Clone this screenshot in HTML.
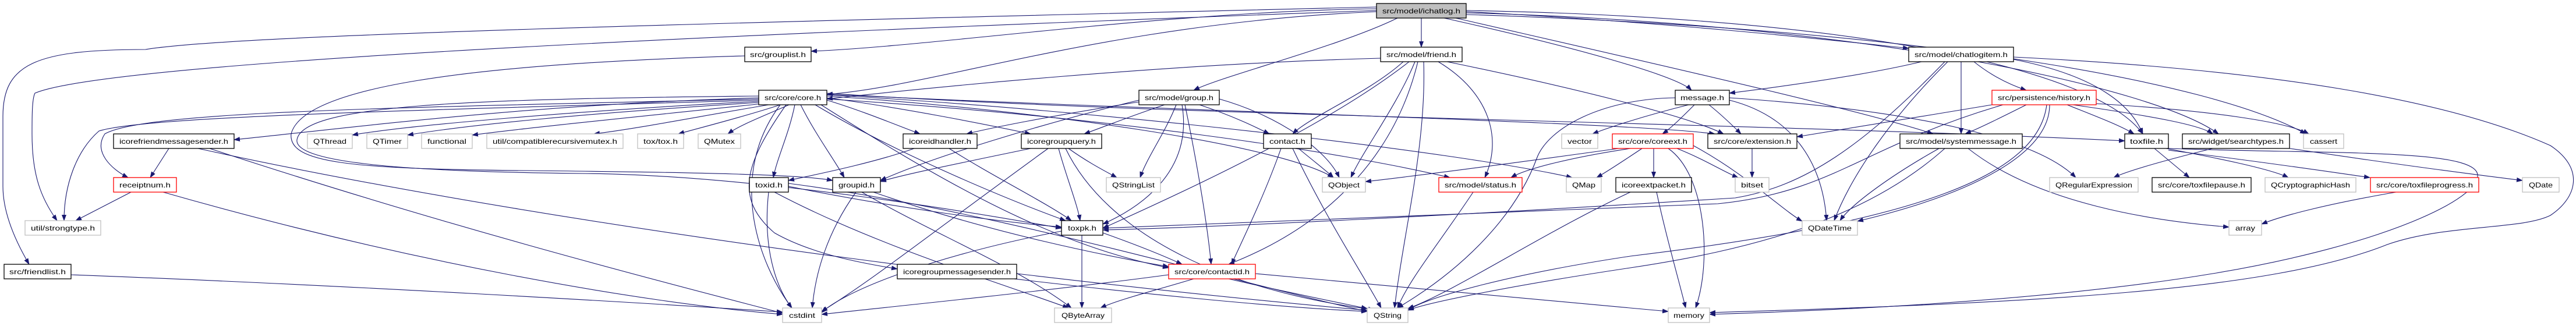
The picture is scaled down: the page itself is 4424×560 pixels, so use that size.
<!DOCTYPE html>
<html><head><meta charset="utf-8"><style>
html,body{margin:0;padding:0;background:#fff;}
svg{display:block;}
text{font-family:"Liberation Sans",sans-serif;font-size:12px;fill:#000;}
.e{fill:none;stroke:#191970;stroke-width:1.1;marker-end:url(#a);}
.n{fill:#fff;stroke:#000;stroke-width:1.3;}
.g{fill:#fff;stroke:#bfbfbf;stroke-width:1.3;}
.r{fill:#fff;stroke:#ff0000;stroke-width:1.3;}
.m{fill:#bfbfbf;stroke:#000;stroke-width:1.3;}
</style></head><body>
<svg width="4424" height="560" viewBox="0 0 4424 560" xmlns="http://www.w3.org/2000/svg">
<defs><marker id="a" markerWidth="11" markerHeight="8" refX="10" refY="4" orient="auto" markerUnits="userSpaceOnUse"><path d="M0,0 L11,4 L0,8 z" fill="#191970"/></marker></defs>
<g>
<!-- ichatlog -->
<path class="e" d="M2441,31 L2441,81"/>
<path class="e" d="M2364,20 C1900,40 1600,150 1420,162"/>
<path class="e" d="M2364,15 C2000,20 1600,80 1393,88"/>
<path class="e" d="M2400,31 C2300,80 2100,130 2050,155"/>
<path class="e" d="M2480,31 C2700,80 2880,130 2905,155"/>
<path class="e" d="M2518,20 C2900,40 3200,75 3278,83"/>
<path class="e" d="M2500,31 C2800,100 3200,190 3320,230"/>
<path class="e" d="M2518,18 C3200,30 3600,120 3680,230"/>
<path class="e" d="M2518,22 C3200,40 3700,150 3810,230"/>
<path class="e" d="M2518,25 C3300,50 3800,140 3960,230"/>
<path class="e" d="M2364,12 C1200,40 400,60 250,85 C60,85 5,110 5,200 L5,320 C5,370 30,420 50,454"/>
<path class="e" d="M2364,18 C1500,50 200,100 60,160 C55,170 55,200 55,230 C55,300 70,340 98,379"/>
<path class="e" d="M3458,98 C3900,120 4200,170 4380,250 C4440,290 4425,340 4380,370 C4330,395 4200,385 4100,420 C3900,500 3500,520 2936,537"/>
<path class="e" d="M3724,255 C4000,265 4250,255 4255,300 C4260,340 4100,420 3800,470 C3500,520 3100,535 2936,540"/>
<!-- friend -->
<path class="e" d="M2371,100 C2000,110 1600,150 1420,170"/>
<path class="e" d="M2410,106 C2350,160 2250,200 2220,230"/>
<path class="e" d="M2430,106 C2400,180 2340,260 2320,305"/>
<path class="e" d="M2445,106 C2450,250 2410,400 2395,529"/>
<path class="e" d="M2470,106 C2560,160 2580,240 2550,305"/>
<path class="e" d="M2420,106 C2300,200 2100,300 1894,392"/>
<path class="e" d="M2435,106 C2400,250 2300,380 2110,454"/>
<path class="e" d="M2485,106 C2700,150 2900,200 2960,230"/>
<!-- core -->
<path class="e" d="M1303,168 C900,180 600,220 402,240"/>
<path class="e" d="M1303,170 C700,185 250,190 180,230 C160,260 190,290 220,305"/>
<path class="e" d="M1303,172 C700,190 250,200 170,225 C130,260 110,320 110,379"/>
<path class="e" d="M1303,174 C1000,190 700,215 605,232"/>
<path class="e" d="M1303,176 C1000,195 800,215 700,232"/>
<path class="e" d="M1310,178 C1100,200 900,220 811,232"/>
<path class="e" d="M1320,180 C1200,200 1100,220 1020,230"/>
<path class="e" d="M1340,180 C1280,200 1200,220 1165,230"/>
<path class="e" d="M1355,180 C1310,200 1270,215 1250,230"/>
<path class="e" d="M1365,180 C1355,230 1335,270 1328,305"/>
<path class="e" d="M1375,180 C1400,230 1430,270 1450,305"/>
<path class="e" d="M1420,172 C1480,190 1540,215 1580,230"/>
<path class="e" d="M1420,168 C1550,185 1700,215 1770,230"/>
<path class="e" d="M1400,180 C1550,270 1750,350 1830,379"/>
<path class="e" d="M1350,180 C1280,280 1260,340 1330,400 C1400,440 1500,455 1541,462"/>
<path class="e" d="M1420,165 C1800,190 2200,250 2290,305"/>
<path class="e" d="M1420,163 C1900,190 2500,260 2700,305"/>
<path class="e" d="M1420,160 C2000,200 3000,210 3649,242"/>
<path class="e" d="M1420,162 C2000,190 2800,210 2945,230"/>
<path class="e" d="M1340,180 C1250,300 1300,450 1360,529"/>
<path class="e" d="M1420,170 C1900,200 2300,260 2490,305"/>
<path class="e" d="M1410,180 C1600,300 1800,420 2007,460"/>
<path class="e" d="M1303,165 C800,170 520,180 510,240 C505,280 700,295 1000,298 C1300,300 1700,370 1823,392"/>
<path class="e" d="M1279,96 C800,110 520,150 500,230 C495,280 600,290 900,293 C1200,296 1380,300 1430,310"/>
<!-- group -->
<path class="e" d="M1956,175 C1800,200 1700,220 1660,230"/>
<path class="e" d="M2000,180 C1940,200 1890,220 1862,230"/>
<path class="e" d="M1956,172 C1800,210 1600,270 1512,310"/>
<path class="e" d="M2020,180 C2000,230 1970,270 1958,305"/>
<path class="e" d="M2030,180 C2050,300 1950,360 1894,385"/>
<path class="e" d="M2035,180 C2060,300 2075,400 2080,454"/>
<path class="e" d="M2060,180 C2120,200 2160,220 2180,230"/>
<path class="e" d="M2094,170 C2200,200 2280,260 2300,305"/>
<!-- mid -->
<path class="e" d="M1630,255 C1700,300 1800,350 1840,379"/>
<path class="e" d="M1570,255 C1500,280 1400,300 1354,310"/>
<path class="e" d="M1770,255 C1650,280 1550,300 1512,312"/>
<path class="e" d="M1818,255 C1830,300 1850,350 1855,379"/>
<path class="e" d="M1835,255 C1870,280 1900,295 1918,305"/>
<path class="e" d="M1830,255 C1900,400 2100,500 2360,532"/>
<path class="e" d="M1800,255 C1600,400 1500,480 1411,535"/>
<path class="e" d="M2230,255 C2260,280 2280,295 2290,305"/>
<path class="e" d="M2220,255 C2280,380 2340,470 2372,529"/>
<path class="e" d="M2200,255 C2170,340 2130,420 2115,454"/>
<path class="e" d="M1320,330 C1310,420 1330,490 1360,529"/>
<path class="e" d="M1330,330 C1500,420 1700,480 1835,529"/>
<path class="e" d="M1354,315 C1700,360 2100,480 2348,535"/>
<path class="e" d="M1354,320 C1500,350 1700,380 1823,390"/>
<path class="e" d="M1470,330 C1420,400 1400,470 1395,529"/>
<path class="e" d="M1500,330 C1700,400 1900,440 2007,458"/>
<path class="e" d="M1480,330 C1600,400 1750,460 1840,529"/>
<path class="e" d="M1858,404 L1858,529"/>
<path class="e" d="M1823,397 C1600,440 1450,500 1411,537"/>
<path class="e" d="M1894,400 C1950,420 2000,440 2030,454"/>
<path class="e" d="M1746,470 C2000,500 2200,520 2348,533"/>
<path class="e" d="M2050,479 C1980,500 1920,515 1890,529"/>
<path class="e" d="M2110,479 C2200,500 2300,520 2348,530"/>
<path class="e" d="M2007,472 C1800,500 1500,530 1411,540"/>
<path class="e" d="M2156,470 C2500,500 2800,530 2865,535"/>
<path class="e" d="M290,255 L258,305"/>
<path class="e" d="M340,255 C1000,400 2000,520 2348,535"/>
<path class="e" d="M360,255 C800,400 1200,500 1344,538"/>
<path class="e" d="M225,330 L130,379"/>
<path class="e" d="M280,330 C700,450 1100,520 1344,540"/>
<path class="e" d="M122,472 C600,490 1100,520 1344,536"/>
<!-- message / coreext -->
<path class="e" d="M2900,180 C2820,200 2760,220 2735,230"/>
<path class="e" d="M2910,180 C2890,200 2870,220 2855,230"/>
<path class="e" d="M2935,180 C2960,200 2980,220 2990,230"/>
<path class="e" d="M2970,172 C3080,200 3130,280 3137,379"/>
<path class="e" d="M2970,168 C3300,190 3500,240 3565,305"/>
<path class="e" d="M2877,168 C2750,170 2660,220 2640,270 C2600,380 2500,470 2400,529"/>
<path class="e" d="M2780,255 C2600,280 2450,300 2345,312"/>
<path class="e" d="M2800,255 C2700,270 2620,290 2595,305"/>
<path class="e" d="M2820,255 C2790,275 2760,295 2742,305"/>
<path class="e" d="M2840,255 L2840,305"/>
<path class="e" d="M2865,255 C2930,300 2940,450 2912,529"/>
<path class="e" d="M2880,255 C2930,275 2960,295 2985,305"/>
<path class="e" d="M2908,250 C3000,300 3060,360 3095,380"/>
<path class="e" d="M2845,330 C2860,400 2880,470 2895,529"/>
<path class="e" d="M2800,330 C2650,400 2500,500 2418,530"/>
<path class="e" d="M3009,255 L3009,305"/>
<path class="e" d="M2530,330 C2470,420 2420,480 2400,529"/>
<!-- history / chatlogitem -->
<path class="e" d="M3440,180 C3200,250 3150,330 2950,350 C2500,370 2100,385 1894,392"/>
<path class="e" d="M3340,106 C3200,250 3100,320 2980,340 C2500,370 2100,390 1894,395"/>
<path class="e" d="M3421,180 C3300,200 3150,225 3086,235"/>
<path class="e" d="M3480,180 C3440,200 3400,220 3375,230"/>
<path class="e" d="M3550,180 C3600,200 3640,215 3665,230"/>
<path class="e" d="M3520,180 C3520,260 3400,330 3190,380"/>
<path class="e" d="M3515,180 C3500,300 3300,380 2800,440 C2600,470 2450,510 2418,533"/>
<path class="e" d="M3600,178 C3800,190 3930,210 3965,230"/>
<path class="e" d="M3560,180 C3700,200 3780,215 3800,230"/>
<path class="e" d="M3300,106 C3200,130 3050,150 2970,160"/>
<path class="e" d="M3368,106 L3368,230"/>
<path class="e" d="M3390,106 C3420,130 3450,145 3480,155"/>
<path class="e" d="M3345,106 C3250,200 3180,300 3150,379"/>
<path class="e" d="M3458,102 C3600,130 3660,180 3680,230"/>
<path class="e" d="M3330,255 C3250,300 3180,350 3160,379"/>
<path class="e" d="M3340,255 C3200,380 3000,430 2800,460 C2600,490 2450,520 2418,533"/>
<path class="e" d="M3380,255 C3500,350 3700,380 3828,390"/>
<path class="e" d="M3700,255 L3760,305"/>
<path class="e" d="M3720,255 C3800,270 3900,290 3930,305"/>
<path class="e" d="M3724,258 C3900,280 4000,295 4070,305"/>
<path class="e" d="M3932,255 C4100,280 4250,300 4332,310"/>
<path class="e" d="M3800,255 C3700,280 3650,295 3630,305"/>
<path class="e" d="M4115,330 C4000,350 3920,370 3884,385"/>
</g>
<g text-anchor="middle">
<rect class="m" x="2364" y="6" width="154" height="25"/><text x="2441" y="23" textLength="134" lengthAdjust="spacingAndGlyphs">src/model/ichatlog.h</text>
<rect class="n" x="7" y="454" width="115" height="25"/><text x="64.5" y="471" textLength="97" lengthAdjust="spacingAndGlyphs">src/friendlist.h</text>
<rect class="n" x="1279" y="81" width="114" height="25"/><text x="1336" y="98" textLength="96" lengthAdjust="spacingAndGlyphs">src/grouplist.h</text>
<rect class="n" x="2371" y="81" width="140" height="25"/><text x="2441" y="98" textLength="120" lengthAdjust="spacingAndGlyphs">src/model/friend.h</text>
<rect class="n" x="3278" y="81" width="180" height="25"/><text x="3368" y="98" textLength="160" lengthAdjust="spacingAndGlyphs">src/model/chatlogitem.h</text>
<rect class="n" x="1303" y="155" width="117" height="25"/><text x="1361.5" y="172" textLength="97" lengthAdjust="spacingAndGlyphs">src/core/core.h</text>
<rect class="n" x="1956" y="155" width="138" height="25"/><text x="2025" y="172" textLength="118" lengthAdjust="spacingAndGlyphs">src/model/group.h</text>
<rect class="n" x="2877" y="155" width="93" height="25"/><text x="2923.5" y="172" textLength="75" lengthAdjust="spacingAndGlyphs">message.h</text>
<rect class="r" x="3421" y="155" width="179" height="25"/><text x="3510.5" y="172" textLength="159" lengthAdjust="spacingAndGlyphs">src/persistence/history.h</text>
<rect class="n" x="195" y="230" width="207" height="25"/><text x="298.5" y="247" textLength="187" lengthAdjust="spacingAndGlyphs">icorefriendmessagesender.h</text>
<rect class="g" x="528" y="230" width="77" height="25"/><text x="566.5" y="247" textLength="57" lengthAdjust="spacingAndGlyphs">QThread</text>
<rect class="g" x="630" y="230" width="70" height="25"/><text x="665" y="247" textLength="50" lengthAdjust="spacingAndGlyphs">QTimer</text>
<rect class="g" x="724" y="230" width="87" height="25"/><text x="767.5" y="247" textLength="67" lengthAdjust="spacingAndGlyphs">functional</text>
<rect class="g" x="836" y="230" width="234" height="25"/><text x="953" y="247" textLength="214" lengthAdjust="spacingAndGlyphs">util/compatiblerecursivemutex.h</text>
<rect class="g" x="1095" y="230" width="79" height="25"/><text x="1134.5" y="247" textLength="59" lengthAdjust="spacingAndGlyphs">tox/tox.h</text>
<rect class="g" x="1199" y="230" width="73" height="25"/><text x="1235.5" y="247" textLength="53" lengthAdjust="spacingAndGlyphs">QMutex</text>
<rect class="n" x="1551" y="230" width="127" height="25"/><text x="1614.5" y="247" textLength="107" lengthAdjust="spacingAndGlyphs">icoreidhandler.h</text>
<rect class="n" x="1754" y="230" width="138" height="25"/><text x="1823" y="247" textLength="118" lengthAdjust="spacingAndGlyphs">icoregroupquery.h</text>
<rect class="n" x="2170" y="230" width="82" height="25"/><text x="2211" y="247" textLength="62" lengthAdjust="spacingAndGlyphs">contact.h</text>
<rect class="g" x="2682" y="230" width="62" height="25"/><text x="2713" y="247" textLength="42" lengthAdjust="spacingAndGlyphs">vector</text>
<rect class="r" x="2769" y="230" width="139" height="25"/><text x="2838.5" y="247" textLength="119" lengthAdjust="spacingAndGlyphs">src/core/coreext.h</text>
<rect class="n" x="2933" y="230" width="153" height="25"/><text x="3009.5" y="247" textLength="133" lengthAdjust="spacingAndGlyphs">src/core/extension.h</text>
<rect class="n" x="3263" y="230" width="210" height="25"/><text x="3368" y="247" textLength="190" lengthAdjust="spacingAndGlyphs">src/model/systemmessage.h</text>
<rect class="n" x="3649" y="230" width="75" height="25"/><text x="3686.5" y="247" textLength="57" lengthAdjust="spacingAndGlyphs">toxfile.h</text>
<rect class="n" x="3748" y="230" width="184" height="25"/><text x="3840" y="247" textLength="164" lengthAdjust="spacingAndGlyphs">src/widget/searchtypes.h</text>
<rect class="g" x="3956" y="230" width="69" height="25"/><text x="3990.5" y="247" textLength="47" lengthAdjust="spacingAndGlyphs">cassert</text>
<rect class="r" x="195" y="305" width="108" height="25"/><text x="249" y="322" textLength="88" lengthAdjust="spacingAndGlyphs">receiptnum.h</text>
<rect class="n" x="1287" y="305" width="67" height="25"/><text x="1320.5" y="322" textLength="47" lengthAdjust="spacingAndGlyphs">toxid.h</text>
<rect class="n" x="1430" y="305" width="82" height="25"/><text x="1471" y="322" textLength="62" lengthAdjust="spacingAndGlyphs">groupid.h</text>
<rect class="g" x="1900" y="305" width="93" height="25"/><text x="1946.5" y="322" textLength="73" lengthAdjust="spacingAndGlyphs">QStringList</text>
<rect class="g" x="2271" y="305" width="74" height="25"/><text x="2308" y="322" textLength="54" lengthAdjust="spacingAndGlyphs">QObject</text>
<rect class="r" x="2471" y="305" width="143" height="25"/><text x="2542.5" y="322" textLength="123" lengthAdjust="spacingAndGlyphs">src/model/status.h</text>
<rect class="g" x="2690" y="305" width="60" height="25"/><text x="2720" y="322" textLength="40" lengthAdjust="spacingAndGlyphs">QMap</text>
<rect class="n" x="2775" y="305" width="130" height="25"/><text x="2840" y="322" textLength="110" lengthAdjust="spacingAndGlyphs">icoreextpacket.h</text>
<rect class="g" x="2980" y="305" width="58" height="25"/><text x="3009" y="322" textLength="38" lengthAdjust="spacingAndGlyphs">bitset</text>
<rect class="g" x="3520" y="305" width="152" height="25"/><text x="3596" y="322" textLength="132" lengthAdjust="spacingAndGlyphs">QRegularExpression</text>
<rect class="n" x="3696" y="305" width="170" height="25"/><text x="3781" y="322" textLength="150" lengthAdjust="spacingAndGlyphs">src/core/toxfilepause.h</text>
<rect class="g" x="3890" y="305" width="156" height="25"/><text x="3968" y="322" textLength="136" lengthAdjust="spacingAndGlyphs">QCryptographicHash</text>
<rect class="r" x="4071" y="305" width="186" height="25"/><text x="4164" y="322" textLength="166" lengthAdjust="spacingAndGlyphs">src/core/toxfileprogress.h</text>
<rect class="g" x="4332" y="305" width="63" height="25"/><text x="4363.5" y="322" textLength="41" lengthAdjust="spacingAndGlyphs">QDate</text>
<rect class="g" x="43" y="379" width="130" height="25"/><text x="108" y="396" textLength="110" lengthAdjust="spacingAndGlyphs">util/strongtype.h</text>
<rect class="n" x="1823" y="379" width="71" height="25"/><text x="1858.5" y="396" textLength="49" lengthAdjust="spacingAndGlyphs">toxpk.h</text>
<rect class="g" x="3095" y="379" width="95" height="25"/><text x="3142.5" y="396" textLength="75" lengthAdjust="spacingAndGlyphs">QDateTime</text>
<rect class="g" x="3828" y="379" width="56" height="25"/><text x="3856" y="396" textLength="34" lengthAdjust="spacingAndGlyphs">array</text>
<rect class="n" x="1541" y="454" width="205" height="25"/><text x="1643.5" y="471" textLength="185" lengthAdjust="spacingAndGlyphs">icoregroupmessagesender.h</text>
<rect class="r" x="2007" y="454" width="149" height="25"/><text x="2081.5" y="471" textLength="129" lengthAdjust="spacingAndGlyphs">src/core/contactid.h</text>
<rect class="g" x="1344" y="529" width="67" height="25"/><text x="1377.5" y="546" textLength="45" lengthAdjust="spacingAndGlyphs">cstdint</text>
<rect class="g" x="1811" y="529" width="98" height="25"/><text x="1860" y="546" textLength="74" lengthAdjust="spacingAndGlyphs">QByteArray</text>
<rect class="g" x="2348" y="529" width="70" height="25"/><text x="2383" y="546" textLength="48" lengthAdjust="spacingAndGlyphs">QString</text>
<rect class="g" x="2865" y="529" width="71" height="25"/><text x="2900.5" y="546" textLength="53" lengthAdjust="spacingAndGlyphs">memory</text>
</g>
</svg>
</body></html>
